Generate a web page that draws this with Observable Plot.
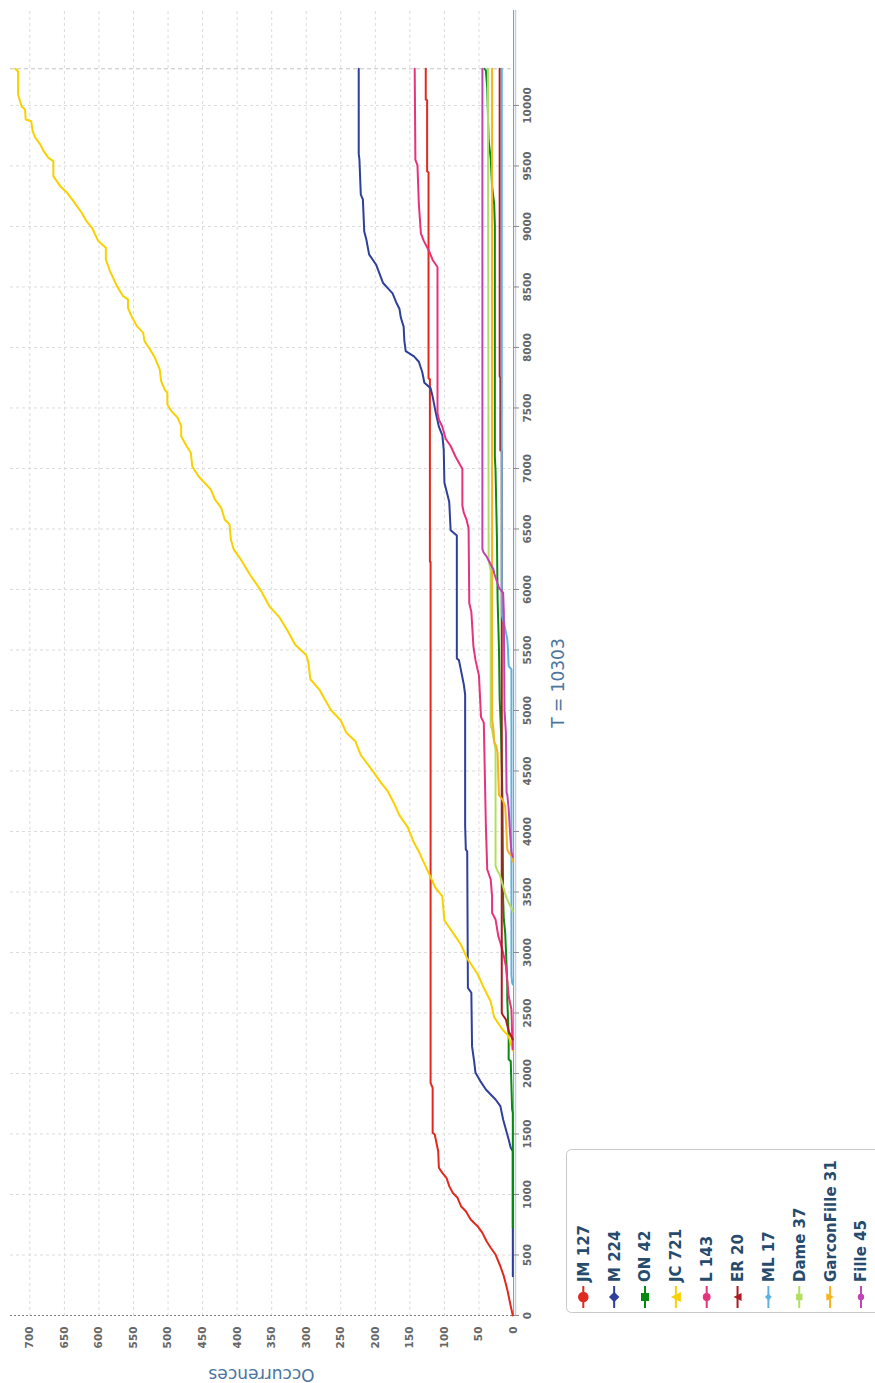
<!DOCTYPE html>
<html>
<head>
<meta charset="utf-8">
<script src="https://cdn.jsdelivr.net/npm/d3@7"></script>
<script src="https://cdn.jsdelivr.net/npm/@observablehq/plot@0.6"></script>
<style>
html, body { margin: 0; padding: 0; background: #fff; }
body { width: 875px; height: 1383px; overflow: hidden; position: relative; }
#rot { position: absolute; left: 0; top: 0; width: 1383px; height: 875px;
       transform-origin: 0 0; transform: translateY(1383px) rotate(-90deg);
       font-family: "DejaVu Sans", Verdana, sans-serif; }
#rot svg { position: absolute; left: 0; top: 0; }
</style>
</head>
<body>
<div id="rot"></div>
<script>
// ---- data (word position, cumulative occurrences) ----
const seriesNames  = ["JM", "M", "ON", "JC", "L", "ER", "ML", "Dame", "GarconFille", "Fille"];
const seriesTotals = [127, 224, 42, 721, 143, 20, 17, 37, 31, 45];
const seriesColors = ["#e2291f", "#2e3f9c", "#078a12", "#f7d100", "#e8327c", "#ae1a20", "#5cb3e0", "#b2e05e", "#f7b21e", "#c142b2"];
const seriesSymbols = ["circle", "diamond", "square", "triangle", "circle", "triangle", "diamond", "square", "triangle-down", "circle"];
const seriesSymbolSizes = [5.3, 5.2, 4, 5, 3.9, 4, 3.4, 3.2, 3.8, 3.2];

const JM = [[0,1],[77,4],[215,9],[325,14],[407,19],[504,26],[560,33],[614,39],[683,45],[738,52],[793,62],[862,69],[903,76],[973,81],[1014,88],[1069,93],[1138,97],[1179,103],[1221,108],[1358,109],[1496,114],[1510,117],[1882,117],[1923,120],[6225,120],[6231,121],[7737,121],[7745,123],[9448,123],[9455,125],[10042,125],[10050,127],[10303,127]];
const M = [[325,1],[1358,1],[1386,4],[1455,7],[1537,11],[1620,15],[1730,19],[1785,26],[1826,33],[1868,40],[1937,48],[2006,55],[2102,57],[2224,60],[2667,61],[2708,66],[3835,67],[3850,69],[4050,70],[5132,70],[5217,72],[5331,76],[5416,79],[5430,82],[6446,82],[6490,91],[6722,93],[6838,98],[6882,100],[7157,101],[7273,103],[7345,108],[7447,112],[7592,117],[7664,120],[7708,129],[7795,132],[7882,137],[7926,144],[7969,156],[8057,158],[8172,159],[8245,163],[8318,165],[8376,170],[8447,175],[8491,182],[8535,189],[8686,199],[8769,209],[8893,213],[8959,216],[9223,218],[9264,221],[9554,223],[9600,224],[10303,224]];
const ON = [[725,1],[1675,1],[1702,2],[2102,4],[2116,7],[2309,7],[2612,9],[2750,9],[3162,12],[3273,14],[3438,15],[4264,16],[4816,18],[5091,20],[5504,21],[5917,23],[6432,24],[6983,26],[7099,27],[9013,27],[9187,28],[9332,31],[9563,33],[9709,36],[10144,38],[10289,40],[10303,42]];
const JC = [[2190,1],[2309,7],[2364,16],[2466,28],[2595,33],[2708,43],[2822,52],[2950,67],[3064,76],[3150,86],[3264,100],[3464,103],[3535,113],[3635,121],[3734,129],[3834,137],[3906,144],[4034,153],[4133,165],[4233,173],[4333,182],[4404,192],[4518,206],[4632,221],[4746,229],[4817,242],[4917,250],[5002,264],[5102,274],[5173,281],[5258,294],[5401,297],[5459,300],[5544,316],[5658,327],[5772,339],[5858,353],[5986,365],[6128,382],[6242,394],[6331,405],[6413,409],[6537,411],[6578,418],[6675,423],[6743,432],[6826,438],[6881,447],[6936,456],[7019,465],[7130,467],[7184,473],[7267,481],[7350,481],[7419,486],[7474,495],[7529,501],[7625,501],[7653,505],[7721,510],[7818,512],[7914,519],[7983,526],[8052,534],[8121,536],[8176,545],[8259,553],[8328,558],[8397,558],[8424,565],[8507,574],[8631,584],[8727,590],[8824,590],[8879,601],[8989,610],[9044,618],[9113,625],[9209,637],[9278,646],[9333,656],[9416,666],[9540,666],[9567,673],[9622,680],[9678,685],[9733,692],[9788,696],[9870,698],[9884,706],[9967,707],[9994,712],[10091,717],[10280,717],[10303,721]];
const L = [[2200,1],[2330,2],[2529,3],[2640,7],[2887,11],[2997,15],[3080,19],[3135,22],[3273,26],[3328,31],[3464,31],[3603,33],[3686,38],[4050,40],[4900,43],[4945,47],[5288,50],[5416,55],[5530,58],[5815,61],[5886,64],[6505,65],[6577,68],[6635,72],[6694,74],[6997,74],[7026,77],[7099,84],[7186,91],[7244,98],[7345,103],[7404,108],[7461,110],[8665,110],[8723,117],[8795,122],[8839,126],[8883,130],[8940,134],[9187,137],[9506,139],[9550,142],[10303,143]];
const ER = [[2281,1],[2350,7],[2446,11],[2488,16],[2500,17],[7142,17],[7150,19],[7752,19],[7760,20],[10303,20]];
const ML = [[2736,1],[2750,2],[2818,3],[5339,3],[5366,7],[5507,8],[5590,9],[5674,12],[5729,14],[5769,16],[5800,17],[10303,17]];
const Dame = [[3340,1],[3355,2],[3410,7],[3465,11],[3645,20],[3672,23],[3713,26],[4677,26],[4746,28],[4843,31],[4870,33],[6157,33],[6242,36],[10303,37]];
const GarconFille = [[3750,1],[3800,3],[3825,7],[3851,9],[4100,11],[4210,12],[4264,16],[4300,21],[4455,22],[4650,23],[4706,25],[4740,28],[4843,29],[4926,31],[10303,31]];
const Fille = [[3790,1],[3830,3],[3992,5],[4190,7],[4304,9],[4320,10],[4818,11],[5000,13],[5815,14],[5973,15],[6014,21],[6134,28],[6165,29],[6273,39],[6302,43],[6331,45],[10303,45]];

const totalWords = 10303;
const positionTicks = [0,500,1000,1500,2000,2500,3000,3500,4000,4500,5000,5500,6000,6500,7000,7500,8000,8500,9000,9500,10000];
const occurrenceTicks = [0,50,100,150,200,250,300,350,400,450,500,550,600,650,700];
const xTitle = "T = " + totalWords;
const yTitle = "Occurrences";

// ---- build a tidy table for Plot ----
const seriesData = [JM, M, ON, JC, L, ER, ML, Dame, GarconFille, Fille];
const rows = [];
seriesData.forEach((arr, i) => arr.forEach(([p, c]) => rows.push({name: seriesNames[i], p, c})));

const W = 1383, H = 580, mL = 67, mR = 10, mT = 10, mB = 67;

const chart = Plot.plot({
  width: W, height: H,
  marginLeft: mL, marginRight: mR, marginTop: mT, marginBottom: mB,
  style: {fontFamily: "DejaVu Sans, Verdana, sans-serif", background: "transparent", overflow: "visible"},
  x: {domain: [0, 10793], label: null},
  y: {domain: [0, 728], label: null},
  color: {domain: seriesNames, range: seriesColors},
  marks: [
    Plot.gridX(positionTicks.filter(d => d > 0), {stroke: "#dcdcdc", strokeOpacity: 1, strokeDasharray: "3,3"}),
    Plot.gridY(occurrenceTicks.filter(d => d > 0), {stroke: "#dcdcdc", strokeOpacity: 1, strokeDasharray: "3,3"}),
    Plot.ruleX([totalWords], {stroke: "#c4c4c4", strokeDasharray: "4,3"}),
    Plot.ruleX([0], {stroke: "#808080", strokeDasharray: "2,2"}),
    Plot.ruleY([0], {stroke: "#999999"}),
    Plot.ruleY([0], {stroke: "#C0D0E0", dy: 2, strokeWidth: 1.5}),
    Plot.axisX(positionTicks, {tickSize: 6, tickPadding: 4, tickFormat: d => String(d), stroke: "#8a8a8a", fill: "#666", fontSize: 10.5, fontWeight: "bold", label: null}),
    Plot.axisY(occurrenceTicks, {tickSize: 0, tickPadding: 11, tickFormat: d => String(d), fill: "#666", fontSize: 10.5, fontWeight: "bold", label: null}),
    Plot.line(rows, {x: "p", y: "c", z: "name", stroke: "name", strokeWidth: 2})
  ]
});

const rot = document.getElementById("rot");
rot.appendChild(chart);

// axis titles
const svg = d3.select(chart);
svg.append("text")
  .attr("transform", `translate(14,${(mT + H - mB) / 2}) rotate(-90)`)
  .attr("text-anchor", "middle")
  .attr("fill", "#4d759e").attr("font-size", 17)
  .attr("font-family", "DejaVu Sans, Verdana, sans-serif")
  .text(yTitle);
svg.append("text")
  .attr("x", 700).attr("y", 564)
  .attr("text-anchor", "middle")
  .attr("fill", "#4d759e").attr("font-size", 17)
  .attr("font-family", "DejaVu Sans, Verdana, sans-serif")
  .text(xTitle);

// legend
const lg = d3.select(rot).append("svg").attr("width", W).attr("height", 900)
  .style("overflow", "visible");
lg.append("rect").attr("x", 70.5).attr("y", 566.5).attr("width", 163).attr("height", 340)
  .attr("rx", 5).attr("fill", "#fff").attr("stroke", "#c8c8c8");
function symbolPath(type, r) {
  switch (type) {
    case "diamond": return `M0,${-r}L${r},0L0,${r}L${-r},0Z`;
    case "square": return `M${-r},${-r}H${r}V${r}H${-r}Z`;
    case "triangle": return `M0,${-r}L${r},${r}L${-r},${r}Z`;
    case "triangle-down": return `M${-r},${-r}L${r},${-r}L0,${r}Z`;
    default: return d3.arc()({innerRadius: 0, outerRadius: r, startAngle: 0, endAngle: 2 * Math.PI});
  }
}
seriesNames.forEach((n, i) => {
  const cy = 583.3 + i * 30.85;
  const g = lg.append("g");
  g.append("line").attr("x1", 75).attr("x2", 97).attr("y1", cy).attr("y2", cy)
    .attr("stroke", seriesColors[i]).attr("stroke-width", 2);
  g.append("path").attr("d", symbolPath(seriesSymbols[i], seriesSymbolSizes[i]))
    .attr("transform", `translate(86,${cy})`).attr("fill", seriesColors[i]);
  g.append("text").attr("x", 101).attr("y", cy).attr("dy", "0.36em")
    .attr("fill", "#274b6d").attr("font-size", 15).attr("font-weight", "bold")
    .attr("font-family", "DejaVu Sans, Verdana, sans-serif")
    .text(n + " " + seriesTotals[i]);
});
</script>
</body>
</html>
